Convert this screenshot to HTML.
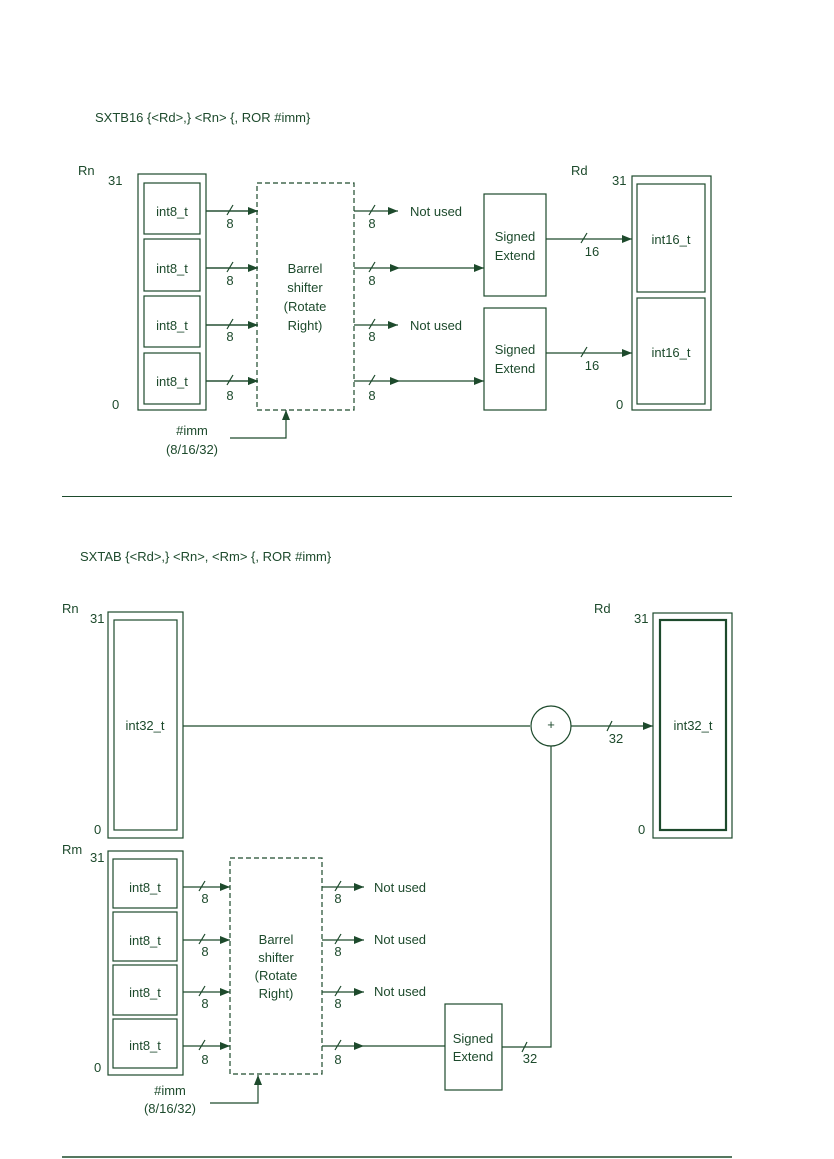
<!DOCTYPE html>
<html><head><meta charset="utf-8"><style>
html,body{margin:0;padding:0;background:#fff}
svg{display:block}
text{font-family:"Liberation Sans",sans-serif;fill:#1d4a2c;font-size:13px}
</style></head><body>
<svg width="834" height="1159" viewBox="0 0 834 1159" xmlns="http://www.w3.org/2000/svg">
<defs>
<marker id="a" markerWidth="10" markerHeight="8" refX="10" refY="4" orient="auto" markerUnits="userSpaceOnUse"><path d="M0,0 L10,4 L0,8 z" fill="#1d4a2c"/></marker>
</defs>
<g stroke="#1d4a2c" fill="none" stroke-width="1.2">
<!-- TOP -->
<rect x="138" y="174" width="68" height="236"/>
<rect x="144" y="183" width="56" height="51"/>
<rect x="144" y="239" width="56" height="52"/>
<rect x="144" y="296" width="56" height="51"/>
<rect x="144" y="353" width="56" height="51"/>
<rect x="257" y="183" width="97" height="227" stroke-dasharray="5,3"/>
<path d="M206 211H258M206 268H258M206 325H258M206 381H258" marker-end="url(#a)"/>
<path d="M206 211H258" marker-end="url(#a)"/><path d="M206 268H258" marker-end="url(#a)"/><path d="M206 325H258" marker-end="url(#a)"/><path d="M206 381H258" marker-end="url(#a)"/>
<path d="M354 211H398" marker-end="url(#a)"/><path d="M354 325H398" marker-end="url(#a)"/>
<path d="M354 268H400" marker-end="url(#a)"/><path d="M400 268H484" marker-end="url(#a)"/>
<path d="M354 381H400" marker-end="url(#a)"/><path d="M400 381H484" marker-end="url(#a)"/>
<path d="M230 438H286V410" marker-end="url(#a)"/>
<rect x="484" y="194" width="62" height="102"/>
<rect x="484" y="308" width="62" height="102"/>
<path d="M546 239H632" marker-end="url(#a)"/><path d="M546 353H632" marker-end="url(#a)"/>
<rect x="632" y="176" width="79" height="234"/>
<rect x="637" y="184" width="68" height="108"/>
<rect x="637" y="298" width="68" height="106"/>
<path d="M227 215L233 205M227 272L233 262M227 329L233 319M227 385L233 375M369 215L375 205M369 272L375 262M369 329L375 319M369 385L375 375M581 243L587 233M581 357L587 347"/>
<!-- rule -->
<path d="M62 496.5H732" stroke-width="1"/>
<!-- BOTTOM -->
<rect x="108" y="612" width="75" height="226"/>
<rect x="114" y="620" width="63" height="210"/>
<path d="M183 726H530"/>
<circle cx="551" cy="726" r="20"/>
<path d="M571 726H653" marker-end="url(#a)"/>
<path d="M607 731L612 721"/>
<rect x="653" y="613" width="79" height="225"/>
<rect x="660" y="620" width="66" height="210" stroke-width="2.2"/>
<path d="M551 746V1047H502"/>
<path d="M522 1052L527 1042"/>
<rect x="108" y="851" width="75" height="224"/>
<rect x="113" y="859" width="64" height="49"/>
<rect x="113" y="912" width="64" height="49"/>
<rect x="113" y="965" width="64" height="50"/>
<rect x="113" y="1019" width="64" height="49"/>
<rect x="230" y="858" width="92" height="216" stroke-dasharray="5,3"/>
<path d="M183 887H230" marker-end="url(#a)"/><path d="M183 940H230" marker-end="url(#a)"/><path d="M183 992H230" marker-end="url(#a)"/><path d="M183 1046H230" marker-end="url(#a)"/>
<path d="M322 887H364" marker-end="url(#a)"/><path d="M322 940H364" marker-end="url(#a)"/><path d="M322 992H364" marker-end="url(#a)"/>
<path d="M322 1046H364" marker-end="url(#a)"/><path d="M364 1046H445"/>
<path d="M210 1103H258V1075" marker-end="url(#a)"/>
<rect x="445" y="1004" width="57" height="86"/>
<path d="M199 891L205 881M199 944L205 934M199 996L205 986M199 1050L205 1040M335 891L341 881M335 944L341 934M335 996L341 986M335 1050L341 1040"/>
<path d="M62 1157H732" stroke-width="1.5"/>
</g>
<!-- TOP TEXT -->
<text x="95" y="122">SXTB16  {&lt;Rd&gt;,} &lt;Rn&gt; {, ROR #imm}</text>
<text x="78" y="175">Rn</text><text x="108" y="185">31</text><text x="112" y="409">0</text>
<g text-anchor="middle">
<text x="172" y="216">int8_t</text><text x="172" y="273">int8_t</text><text x="172" y="330">int8_t</text><text x="172" y="386">int8_t</text>
<text x="230" y="228">8</text><text x="230" y="285">8</text><text x="230" y="341">8</text><text x="230" y="400">8</text>
<text x="372" y="228">8</text><text x="372" y="285">8</text><text x="372" y="341">8</text><text x="372" y="400">8</text>
<text x="305" y="273">Barrel</text><text x="305" y="292">shifter</text><text x="305" y="311">(Rotate</text><text x="305" y="330">Right)</text>
<text x="192" y="435">#imm</text><text x="192" y="454">(8/16/32)</text>
<text x="515" y="241">Signed</text><text x="515" y="260">Extend</text>
<text x="515" y="354">Signed</text><text x="515" y="373">Extend</text>
<text x="592" y="256">16</text><text x="592" y="370">16</text>
<text x="671" y="244">int16_t</text><text x="671" y="357">int16_t</text>
</g>
<text x="410" y="216">Not used</text><text x="410" y="330">Not used</text>
<text x="571" y="175">Rd</text><text x="612" y="185">31</text><text x="616" y="409">0</text>
<!-- BOTTOM TEXT -->
<text x="80" y="561">SXTAB  {&lt;Rd&gt;,} &lt;Rn&gt;, &lt;Rm&gt; {, ROR #imm}</text>
<text x="62" y="613">Rn</text><text x="90" y="623">31</text><text x="94" y="834">0</text>
<text x="594" y="613">Rd</text><text x="634" y="623">31</text><text x="638" y="834">0</text>
<text x="62" y="854">Rm</text><text x="90" y="862">31</text><text x="94" y="1072">0</text>
<g text-anchor="middle">
<text x="145" y="730">int32_t</text><text x="693" y="730">int32_t</text>
<text x="551" y="729" font-size="9">+</text>
<text x="616" y="743">32</text><text x="530" y="1063">32</text>
<text x="145" y="892">int8_t</text><text x="145" y="945">int8_t</text><text x="145" y="997">int8_t</text><text x="145" y="1050">int8_t</text>
<text x="205" y="903">8</text><text x="205" y="956">8</text><text x="205" y="1008">8</text><text x="205" y="1064">8</text>
<text x="338" y="903">8</text><text x="338" y="956">8</text><text x="338" y="1008">8</text><text x="338" y="1064">8</text>
<text x="276" y="944">Barrel</text><text x="276" y="962">shifter</text><text x="276" y="980">(Rotate</text><text x="276" y="998">Right)</text>
<text x="473" y="1043">Signed</text><text x="473" y="1061">Extend</text>
<text x="170" y="1095">#imm</text><text x="170" y="1113">(8/16/32)</text>
</g>
<text x="374" y="892">Not used</text><text x="374" y="944">Not used</text><text x="374" y="996">Not used</text>
</svg>
</body></html>
